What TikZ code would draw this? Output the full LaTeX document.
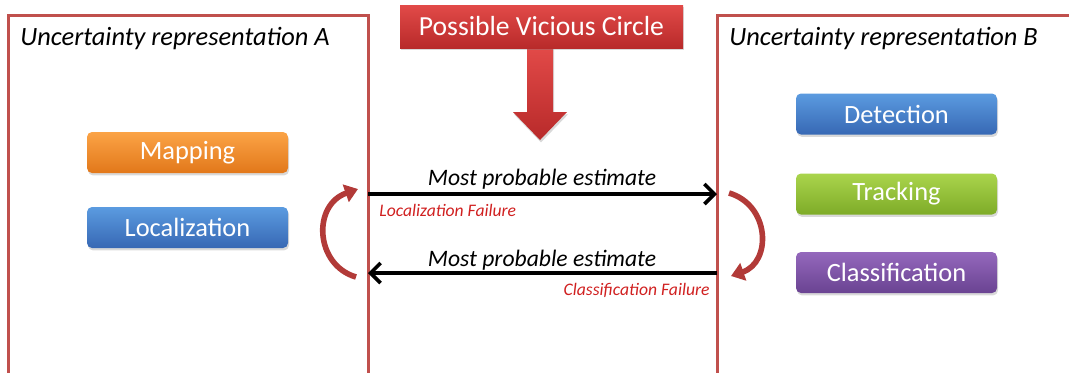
\documentclass[tikz,border=0pt]{standalone}
\usepackage{fontspec}
\setmainfont{Carlito}
\usetikzlibrary{arrows.meta,shadows,positioning}

\definecolor{framered}{HTML}{C0504D}
\definecolor{loopred}{HTML}{B23A38}
\definecolor{failred}{HTML}{D02020}
\definecolor{orangetop}{HTML}{FBA346}
\definecolor{orangebot}{HTML}{E2781A}
\definecolor{bluetop}{HTML}{5B9BE0}
\definecolor{bluebot}{HTML}{3768B4}
\definecolor{greentop}{HTML}{AAD44C}
\definecolor{greenbot}{HTML}{7EAC28}
\definecolor{purpletop}{HTML}{9468BC}
\definecolor{purplebot}{HTML}{6A4392}
\definecolor{titletop}{HTML}{E24A48}
\definecolor{titlebot}{HTML}{B82A2A}

\tikzset{
  task/.style={rounded corners=2.5pt, minimum width=100.5pt, minimum height=20.5pt,
    inner sep=0pt, text=white, font=\fontsize{13.2}{15}\selectfont,
    drop shadow={shadow xshift=0.5pt, shadow yshift=-1.2pt, opacity=0.3}},
  orangetask/.style={task, top color=orangetop, bottom color=orangebot},
  bluetask/.style={task, top color=bluetop, bottom color=bluebot},
  greentask/.style={task, top color=greentop, bottom color=greenbot},
  purpletask/.style={task, top color=purpletop, bottom color=purplebot},
  heading/.style={anchor=west, inner sep=0pt, font=\fontsize{13.2}{15}\selectfont\itshape},
  estimate/.style={inner sep=0pt, font=\fontsize{11.8}{13}\selectfont\itshape},
  failure/.style={inner sep=0pt, text=failred, font=\fontsize{8.8}{10}\selectfont\itshape},
  frame/.style={framered, line width=1.5pt},
  flow/.style={line width=1.8pt, -{Straight Barb[length=5pt, width=10pt, line width=1.8pt]}},
  loop/.style={loopred, line width=2.8pt, -{Triangle[length=6.5pt, width=9pt]}}
}

\begin{document}
\begin{tikzpicture}[x=0.5pt, y=-0.5pt]
  \useasboundingbox (0,0) rectangle (1069,372);
  \coordinate (fa) at (368,194);
  \coordinate (fb) at (717,194);
  \coordinate (ga) at (368,273);
  \coordinate (gb) at (717,273);
  %
  \coordinate (la) at (356,277);
  \coordinate (lc) at (358,189);
  \coordinate (ra) at (729,193);
  \coordinate (rc) at (731,276);
  % Frames of the two representations
  \draw[frame] (8,380) -- (8,15) -- (368,15) -- (368,380);
  \draw[frame] (717,380) -- (717,15) -- (1080,15);
  \node[heading] (ha) at (20,38) {Uncertainty representation A};
  \node[heading] (hb) at (729,38) {Uncertainty representation B};
  % Title and its down arrow
  \shade[top color=titletop, bottom color=titlebot, drop shadow={shadow xshift=0.5pt, shadow yshift=-1.2pt, opacity=0.3}]
    (527,47) -- (553,47) -- (553,112) -- (567,112) -- (540,140) -- (513,112) -- (527,112) -- cycle;
  \node[task, top color=titletop, bottom color=titlebot, rounded corners=0pt,
    minimum width=141.5pt, minimum height=21.5pt, font=\fontsize{13.8}{15}\selectfont] (title) at (541.5,26.5) {Possible Vicious Circle};
  % Tasks
  \node[orangetask] (mapping) at (187.5,152.5) {Mapping};
  \node[bluetask] (localization) at (187.5,227.5) {Localization};
  \node[bluetask] (detection) at (896.5,114) {Detection};
  \node[greentask] (tracking) at (896.5,194) {Tracking};
  \node[purpletask] (classification) at (896.5,272.5) {Classification};
  % Estimates passed between the representations
  \draw[flow] (fa) -- (fb);
  \draw[flow] (gb) -- (ga);
  \node[estimate] (ea) at (542,179) {Most probable estimate};
  \node[estimate] (eb) at (542,260) {Most probable estimate};
  \node[failure, anchor=west] (fl) at (379,210) {Localization Failure};
  \node[failure, anchor=east] (fc) at (710,290) {Classification Failure};
  % Vicious circle
  \draw[loop] (la) .. controls (315,265) and (312,205) .. (lc);
  \draw[loop] (ra) .. controls (770,205) and (772,262) .. (rc);
\end{tikzpicture}
\end{document}
